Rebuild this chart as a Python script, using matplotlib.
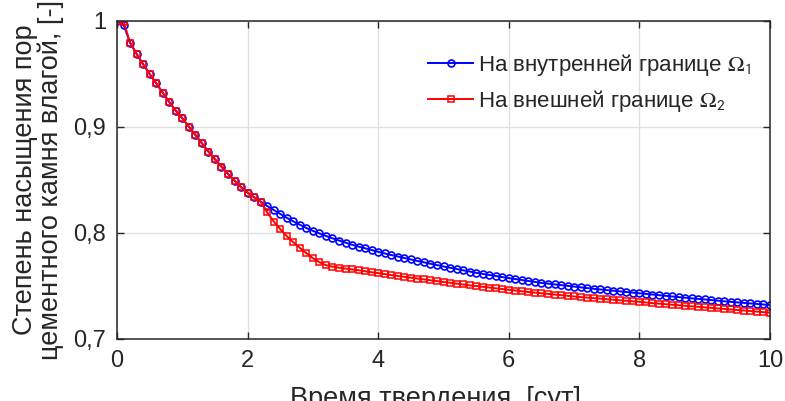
import numpy as np
import matplotlib
matplotlib.use("Agg")
import matplotlib.pyplot as plt

plt.rcParams['font.family'] = ['Liberation Sans', 'DejaVu Sans']
plt.rcParams['mathtext.fontset'] = 'stix'

# time grid, days (marker every 0.1 day)
time_days = np.linspace(0, 10, 101)

# saturation on the inner boundary (Omega_1)
inner_sat = [
    1.0000, 0.9962, 0.9793, 0.9687, 0.9589, 0.9498, 0.9410, 0.9321, 0.9233, 0.9151,
    0.9079, 0.9000, 0.8922, 0.8843, 0.8764, 0.8692, 0.8622, 0.8553, 0.8490, 0.8428,
    0.8377, 0.8333, 0.8292, 0.8251, 0.8213, 0.8176, 0.8139, 0.8106, 0.8074, 0.8043,
    0.8016, 0.7992, 0.7968, 0.7946, 0.7925, 0.7905, 0.7885, 0.7867, 0.7852, 0.7835,
    0.7818, 0.7803, 0.7788, 0.7774, 0.7760, 0.7746, 0.7732, 0.7719, 0.7706, 0.7693,
    0.7680, 0.7668, 0.7656, 0.7644, 0.7632, 0.7620, 0.7610, 0.7600, 0.7590, 0.7580,
    0.7570, 0.7561, 0.7552, 0.7543, 0.7534, 0.7525, 0.7518, 0.7511, 0.7504, 0.7497,
    0.7490, 0.7483, 0.7476, 0.7469, 0.7463, 0.7457, 0.7451, 0.7445, 0.7439, 0.7433,
    0.7427, 0.7421, 0.7415, 0.7409, 0.7403, 0.7397, 0.7391, 0.7385, 0.7379, 0.7374,
    0.7369, 0.7363, 0.7357, 0.7351, 0.7346, 0.7341, 0.7336, 0.7331, 0.7326, 0.7321,
    0.7316,
]

# saturation on the outer boundary (Omega_2)
outer_sat = [
    1.0000, 0.9990, 0.9793, 0.9687, 0.9589, 0.9498, 0.9410, 0.9321, 0.9233, 0.9151,
    0.9079, 0.9000, 0.8922, 0.8843, 0.8764, 0.8692, 0.8622, 0.8553, 0.8490, 0.8428,
    0.8377, 0.8333, 0.8292, 0.8190, 0.8104, 0.8033, 0.7966, 0.7908, 0.7855, 0.7805,
    0.7758, 0.7720, 0.7692, 0.7678, 0.7668, 0.7660, 0.7652, 0.7644, 0.7635, 0.7626,
    0.7617, 0.7608, 0.7599, 0.7590, 0.7582, 0.7574, 0.7566, 0.7558, 0.7550, 0.7542,
    0.7534, 0.7526, 0.7518, 0.7510, 0.7502, 0.7495, 0.7488, 0.7481, 0.7474, 0.7467,
    0.7460, 0.7453, 0.7446, 0.7439, 0.7433, 0.7427, 0.7421, 0.7415, 0.7409, 0.7403,
    0.7397, 0.7391, 0.7386, 0.7381, 0.7376, 0.7371, 0.7366, 0.7361, 0.7356, 0.7351,
    0.7346, 0.7340, 0.7334, 0.7329, 0.7324, 0.7319, 0.7314, 0.7309, 0.7304, 0.7299,
    0.7294, 0.7289, 0.7284, 0.7279, 0.7274, 0.7269, 0.7264, 0.7259, 0.7254, 0.7249,
    0.7245,
]

x_ticks = [0, 2, 4, 6, 8, 10]
y_ticks = [0.7, 0.8, 0.9, 1.0]
y_tick_labels = ['0,7', '0,8', '0,9', '1']

labels = [r'На внутренней границе $\Omega_{\mathsf{1}}$',
          r'На внешней границе $\Omega_{\mathsf{2}}$']

fig = plt.figure(figsize=(7.85, 4.01), dpi=100)
ax = fig.add_axes([117 / 785, 1 - 338.5 / 401, 653 / 785, 317.8 / 401])

ax.plot(time_days, inner_sat, '-o', color='#0000ff', lw=1.4, ms=5.0,
        mfc='none', mew=1.2, label=labels[0])
ax.plot(time_days, outer_sat, '-s', color='#ff0000', lw=1.4, ms=4.4,
        mfc='none', mew=1.1, label=labels[1])

ax.set_xlim(0, 10)
ax.set_ylim(0.7, 1.0)
ax.set_xticks(x_ticks)
ax.set_yticks(y_ticks)
ax.set_yticklabels(y_tick_labels)

ax.grid(True, color='#dedede', lw=0.9)
ax.set_axisbelow(True)
for sp in ax.spines.values():
    sp.set_color('#262626')
    sp.set_linewidth(1.1)
ax.tick_params(direction='in', length=5, width=1.0, color='#262626',
               top=True, right=True, labelsize=17, labelcolor='#262626', pad=8)

ax.set_xlabel('Время твердения, [сут]', fontsize=19.5, color='#262626')
ax.xaxis.set_label_coords(0.487, -0.148)
ax.set_ylabel('Степень насыщения пор\nцементного камня влагой, [-]',
              fontsize=19.5, color='#262626', linespacing=1.0)
ax.yaxis.label.set_va('center')
ax.yaxis.set_label_coords(-0.121, 0.5)

leg = ax.legend(loc='upper right', bbox_to_anchor=(0.985, 0.93), frameon=False,
                fontsize=16, handlelength=2.0, handletextpad=0.25,
                labelspacing=0.45, borderaxespad=0)
for t in leg.get_texts():
    t.set_color('#262626')

fig.savefig('out.png', dpi=100)
